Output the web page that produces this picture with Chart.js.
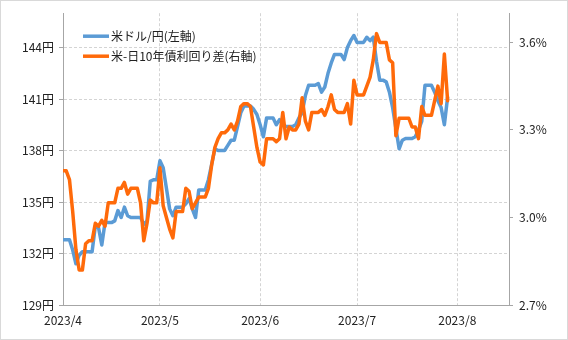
<!DOCTYPE html>
<html lang="ja">
<head>
<meta charset="utf-8">
<script src="https://cdn.jsdelivr.net/npm/chart.js@4.4.0/dist/chart.umd.min.js"></script>
<style>
  html, body { margin: 0; padding: 0; background: #fff; }
  #wrap { width: 568px; height: 340px; position: relative; }
</style>
</head>
<body>
<div id="wrap"><canvas id="fxChart"></canvas></div>
<script>
// 日次データ 2023/4/1〜7/29(土日は直前の値のまま)
const startDay = new Date(2023, 3, 1);
const monthLabels = ['2023/4', '2023/5', '2023/6', '2023/7', '2023/8'];
const yenTicks = [129, 132, 135, 138, 141, 144];
const spreadTicks = [2.7, 3.0, 3.3, 3.6];

const usdJpy = [
  132.8, 132.8, 132.8, 132.2, 131.4, 131.9, 132.1, 132.1, 132.1, 132.1,
  133.6, 133.5, 132.5, 133.8, 133.8, 133.8, 133.9, 134.5, 134.1, 134.7,
  134.2, 134.1, 134.1, 134.1, 134.1, 133.7, 133.9, 136.2, 136.3, 136.3,
  137.4, 137.0, 135.8, 134.6, 134.2, 134.7, 134.7, 134.7, 134.9, 135.2,
  134.6, 134.1, 135.7, 135.7, 135.7, 136.3, 137.2, 138.1, 138.0, 138.0,
  138.0, 138.3, 138.6, 138.6, 139.4, 140.2, 140.6, 140.6, 140.6, 140.4,
  140.1, 139.5, 138.8, 139.9, 139.9, 139.9, 139.5, 139.8, 139.5, 139.4,
  139.4, 139.4, 139.5, 139.9, 140.2, 141.2, 141.8, 141.8, 141.8, 141.9,
  141.4, 141.7, 142.5, 143.1, 143.6, 143.6, 143.6, 143.3, 144.0, 144.4,
  144.7, 144.3, 144.3, 144.3, 144.6, 144.4, 144.6, 143.2, 142.1, 142.1,
  142.0, 141.4, 140.5, 139.3, 138.1, 138.6, 138.7, 138.7, 138.7, 138.8,
  139.2, 139.7, 141.8, 141.8, 141.8, 141.4, 140.9, 140.5, 139.5, 141.1
];

const yieldSpread = [
  3.16, 3.16, 3.13, 3.02, 2.89, 2.82, 2.82, 2.91, 2.92, 2.92,
  2.98, 2.97, 2.99, 2.97, 3.05, 3.05, 3.05, 3.10, 3.10, 3.12,
  3.08, 3.10, 3.10, 3.10, 3.05, 2.92, 2.98, 3.06, 3.05, 3.05,
  3.17, 3.04, 3.00, 2.96, 2.93, 3.02, 3.02, 3.02, 3.10, 3.09,
  3.03, 3.05, 3.07, 3.07, 3.07, 3.10, 3.18, 3.24, 3.27, 3.29,
  3.29, 3.30, 3.32, 3.30, 3.33, 3.38, 3.39, 3.39, 3.38, 3.31,
  3.24, 3.19, 3.18, 3.27, 3.27, 3.27, 3.26, 3.27, 3.36, 3.27,
  3.31, 3.30, 3.30, 3.32, 3.41, 3.33, 3.30, 3.36, 3.36, 3.36,
  3.37, 3.35, 3.38, 3.42, 3.37, 3.36, 3.36, 3.36, 3.39, 3.32,
  3.47, 3.42, 3.42, 3.42, 3.45, 3.48, 3.54, 3.63, 3.60, 3.60,
  3.60, 3.54, 3.53, 3.28, 3.34, 3.34, 3.34, 3.34, 3.31, 3.31,
  3.27, 3.38, 3.35, 3.35, 3.35, 3.40, 3.45, 3.39, 3.56, 3.40
];

// 月初までの日数(x軸の目盛り位置)
const monthStarts = monthLabels.map((m, i) =>
  Math.round((new Date(2023, 3 + i, 1) - startDay) / 86400000));

const FONT = '"Noto Sans CJK JP", "Noto Sans", sans-serif';
const axisColor = '#a6a6a6';
const gridColor = '#d4d4d4';

const insideLegend = {
  id: 'insideLegend',
  afterDatasetsDraw(chart) {
    const { ctx, chartArea } = chart;
    ctx.save();
    ctx.font = '12px ' + FONT;
    ctx.textBaseline = 'middle';
    chart.data.datasets.forEach((ds, i) => {
      const y = chartArea.top + 23 + i * 20;
      ctx.strokeStyle = ds.borderColor;
      ctx.lineWidth = 3.5;
      ctx.beginPath();
      ctx.moveTo(chartArea.left + 20, y);
      ctx.lineTo(chartArea.left + 46, y);
      ctx.stroke();
      ctx.fillStyle = '#222';
      ctx.fillText(ds.label, chartArea.left + 48, y);
    });
    ctx.restore();
  }
};

const frame = {
  id: 'frame',
  afterDraw(chart) {
    const ctx = chart.ctx;
    ctx.save();
    ctx.strokeStyle = '#d9d9d9';
    ctx.lineWidth = 1;
    ctx.strokeRect(0.5, 0.5, chart.width - 1, chart.height - 1);
    ctx.restore();
  }
};

new Chart(document.getElementById('fxChart'), {
  type: 'line',
  data: {
    datasets: [
      {
        label: '米ドル/円(左軸)',
        data: usdJpy.map((v, i) => ({ x: i, y: v })),
        yAxisID: 'y',
        borderColor: '#5b9bd5',
        borderWidth: 3.5,
        order: 1,
      },
      {
        label: '米-日10年債利回り差(右軸)',
        data: yieldSpread.map((v, i) => ({ x: i, y: v })),
        yAxisID: 'y1',
        borderColor: '#ff6a0a',
        borderWidth: 3.5,
        order: 0,
      },
    ],
  },
  options: {
    responsive: true,
    maintainAspectRatio: false,
    animation: false,
    layout: { padding: { top: 13 } },
    elements: {
      point: { radius: 0 },
      line: { tension: 0, borderJoinStyle: 'round', borderCapStyle: 'round' },
    },
    plugins: {
      legend: { display: false },
      tooltip: { enabled: false },
    },
    scales: {
      x: {
        type: 'linear',
        min: 0,
        max: 138,
        afterBuildTicks: (scale) => { scale.ticks = monthStarts.map(v => ({ value: v })); },
        afterFit: (scale) => { scale.height = 35; },
        ticks: {
          autoSkip: false,
          maxRotation: 0,
          padding: 8,
          color: '#222',
          font: { family: FONT, size: 12 },
          callback: (v) => monthLabels[monthStarts.indexOf(v)],
        },
        grid: { color: gridColor, drawTicks: false },
        border: { color: axisColor, dash: [3, 2] },
      },
      y: {
        position: 'left',
        min: 129,
        max: 146,
        afterBuildTicks: (scale) => { scale.ticks = yenTicks.map(v => ({ value: v })); },
        afterFit: (scale) => { scale.width = 63; },
        ticks: {
          padding: 5,
          color: '#222',
          font: { family: FONT, size: 12 },
          callback: (v) => v + '円',
        },
        grid: { color: gridColor, tickColor: axisColor, tickLength: 4, tickBorderDash: [] },
        border: { color: axisColor, dash: [3, 2] },
      },
      y1: {
        position: 'right',
        min: 2.7,
        max: 3.7,
        afterBuildTicks: (scale) => { scale.ticks = spreadTicks.map(v => ({ value: v })); },
        afterFit: (scale) => { scale.width = 59; },
        ticks: {
          padding: 6,
          color: '#222',
          font: { family: FONT, size: 12 },
          callback: (v) => v.toFixed(1) + '%',
        },
        grid: { drawOnChartArea: false, color: axisColor, tickColor: axisColor, tickLength: 4, tickBorderDash: [] },
        border: { color: axisColor },
      },
    },
  },
  plugins: [insideLegend, frame],
});
</script>
</body>
</html>
